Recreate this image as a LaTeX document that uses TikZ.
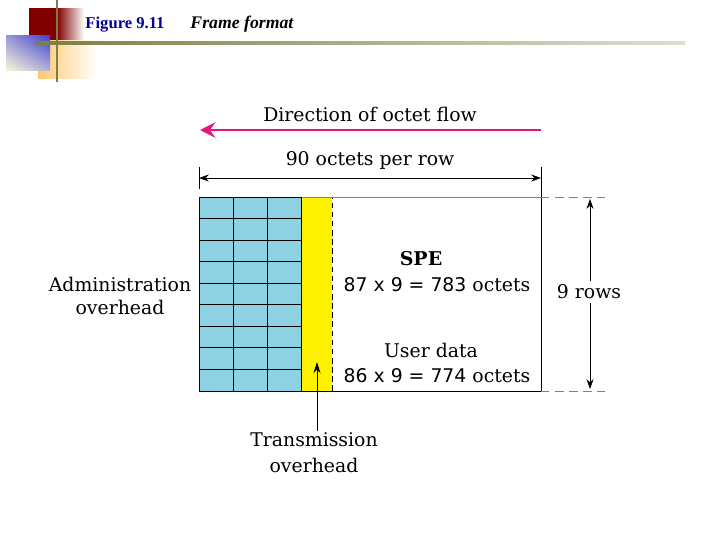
\documentclass[tikz,border=0pt]{standalone}
\usepackage{fontspec}
\setmainfont{DejaVu Serif}
\newfontfamily\numfont{DejaVu Sans}
\newfontfamily\titlefont{Liberation Serif}
\usepackage{tikz}
\usetikzlibrary{positioning}
\usetikzlibrary{calc}
\usetikzlibrary{arrows.meta}
\usetikzlibrary{shadings}

\definecolor{olivebar}{RGB}{125,125,70}
\definecolor{cellblue}{RGB}{142,209,226}
\definecolor{flowpink}{RGB}{228,20,128}
\definecolor{titleblue}{RGB}{0,0,150}
\definecolor{darkred}{RGB}{128,0,0}
\definecolor{paleorange}{RGB}{255,200,110}
\definecolor{dashgray}{RGB}{128,128,128}
\definecolor{blueUL}{RGB}{150,150,215}
\definecolor{blueUR}{RGB}{60,60,205}
\definecolor{blueLL}{RGB}{248,244,215}
\definecolor{blueLR}{RGB}{175,175,215}

\tikzset{
    lbl/.style={font=\fontsize{13.4}{17}\selectfont, inner sep=1pt, align=center},
    dimarrow/.style={{Stealth[length=7pt,width=5pt]}-{Stealth[length=7pt,width=5pt]}, line width=0.6pt},
}

\begin{document}
\begin{tikzpicture}[x=0.025cm, y=-0.025cm, line width=0.7pt]
    \useasboundingbox (0,0) rectangle (720,540);

    % corner ornament
    \fill[darkred] (29,8) rectangle (57,40);
    \shade[left color=darkred, right color=white] (57,8) rectangle (84,40);
    \shade[left color=paleorange, right color=white] (38,40) rectangle (97,78);
    \shade[upper left=blueUL, upper right=blueUR, lower left=blueLL, lower right=blueLR] (6,35) rectangle (50,70);
    \shade[left color=olivebar, right color=olivebar!25] (35,41.8) rectangle (685,44.4);
    \fill[olivebar] (55.8,0) rectangle (58.4,82);

    \node[anchor=base west, inner sep=0pt, font=\titlefont\fontsize{11.8}{14}\selectfont\bfseries, text=titleblue] (fig) at (85,28) {Figure 9.11};
    \node[anchor=base west, inner sep=0pt, font=\titlefont\fontsize{12.6}{14}\selectfont\bfseries\itshape] (cap) at (190,28) {Frame format};

    % direction of flow
    \coordinate (flowR) at (541,130);
    \coordinate (flowL) at (200,130);
    \draw[flowpink, line width=2pt, -{Stealth[length=11pt,width=11pt,inset=4pt]}] (flowR) -- (flowL);
    \node[lbl] (flowtxt) at (370,114) {Direction of octet flow};

    % octets per row
    \coordinate (rowL) at (199,178);
    \coordinate (rowR) at (541,178);
    \draw[dimarrow] (rowL) -- (rowR);
    \draw (199,167) -- (199,189);
    \node[lbl] (rowtxt) at (370,160) {90 octets per row};

    % overhead cells
    \fill[cellblue] (199,197) rectangle (301,391);
    \fill[yellow] (301,197) rectangle (332,391);
    \foreach \c in {1,2}
        \draw (199+\c*34,197) -- (199+\c*34,391);
    \foreach \r in {1,...,8}
        \draw (199,197+\r*21.556) -- (301,197+\r*21.556);
    \draw[dash pattern=on 4pt off 2.5pt] (301,197) -- (332,197) -- (332,391) -- (301,391);

    % frame
    \draw[dashgray] (301,197) -- (541,197);
    \draw (301,391) -- (541,391);
    \draw (199,197) -- (199,391) -- (301,391);
    \draw (199,197) -- (301,197) -- (301,391);
    \draw (541,167) -- (541,391);
    \draw[dashgray, dash pattern=on 6pt off 4pt] (541,197) -- (605,197);
    \draw[dashgray, dash pattern=on 6pt off 4pt] (541,391) -- (605,391);

    % nine rows
    \coordinate (nineT) at (590,199);
    \coordinate (nineB) at (590,389);
    \draw[dimarrow] (nineT) -- (nineB);
    \node[lbl, fill=white, inner sep=3pt] (ninetxt) at (589,292) {9 rows};

    % payload texts
    \node[lbl, font=\fontsize{13.5}{16}\selectfont\bfseries] (spe) at (421,259) {SPE};
    \node[lbl] (spesize) at (437,285) {{\numfont 87 x 9 = 783} octets};
    \node[lbl] (user) at (431,350) {User data};
    \node[lbl] (usersize) at (437,376) {{\numfont 86 x 9 = 774} octets};

    \node[lbl] (admin) at (120,296) {Administration\\overhead};

    % transmission overhead
    \node[lbl, font=\fontsize{13.4}{18.5}\selectfont] (trans) at (314,453) {Transmission\\overhead};
    \coordinate (transtip) at (317,362);
    \draw[line width=0.6pt, -{Stealth[length=8pt,width=5pt]}] (trans.north -| transtip) -- (transtip);
\end{tikzpicture}
\end{document}
